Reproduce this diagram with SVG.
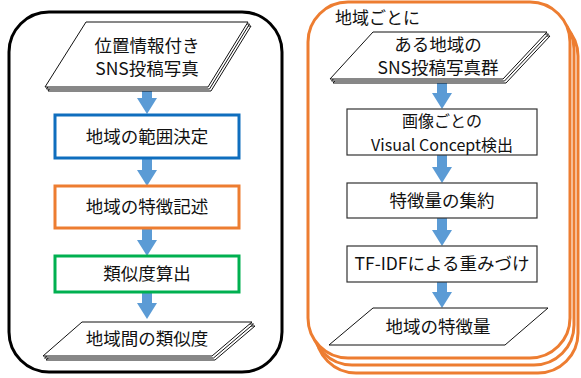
<svg xmlns="http://www.w3.org/2000/svg" width="581" height="378" viewBox="0 0 581 378">
<style>
.t{font-family:"Noto Sans CJK JP","Noto Sans",sans-serif;font-size:17.5px;fill:#111;text-anchor:middle}
.para{fill:#fff;stroke:#111;stroke-width:1}
.box{fill:#fff;stroke-width:3}
.rbox{fill:#fff;stroke:#333;stroke-width:1.2}
.arr{fill:#5B9BD5}
.frameL{fill:#fff;stroke:#000;stroke-width:3}
.frameR{fill:#fff;stroke:#ED7D31;stroke-width:3}
</style>
<g id="frame-left"><rect class="frameL" x="9" y="12" width="273" height="360" rx="40"/></g>
<g id="frame-right">
<rect class="frameR" x="316" y="16" width="262" height="357" rx="40"/>
<rect class="frameR" x="312" y="9" width="262" height="356" rx="40"/>
<rect class="frameR" x="308" y="2" width="262" height="356" rx="40"/>
<text class="t" x="335" y="24" style="text-anchor:start;font-size:17px">地域ごとに</text>
</g>
<g id="connectors">
<polygon class="arr" points="142,88 152,88 152,98 157,98 147,114 137,98 142,98"/>
<polygon class="arr" points="142,158 152,158 152,170 157,170 147,186 137,170 142,170"/>
<polygon class="arr" points="142,228 152,228 152,240 157,240 147,256 137,240 142,240"/>
<polygon class="arr" points="142,292 152,292 152,303 157,303 147,319 137,303 142,303"/>
<polygon class="arr" points="437,81 447,81 447,93 452,93 442,109 432,93 437,93"/>
<polygon class="arr" points="437,155 447,155 447,167 452,167 442,183 432,167 437,167"/>
<polygon class="arr" points="437,218 447,218 447,230 452,230 442,246 432,230 437,230"/>
<polygon class="arr" points="437,282 447,282 447,292 452,292 442,308 432,292 437,292"/>
</g>
<g id="n-input">
<polygon class="para" points="89,26 251,26 211,91 48,91"/>
<polygon class="para" points="87.5,24 249.5,24 209.5,89 46.5,89"/>
<polygon class="para" points="86,22 248,22 208,87 45,87"/>
<text class="t" x="147" y="52">位置情報付き</text>
<text class="t" x="147" y="75">SNS投稿写真</text>
</g>
<g id="n-range"><rect class="box" x="55" y="115" width="184" height="43" stroke="#0F6EBE"/><text class="t" x="147" y="143">地域の範囲決定</text></g>
<g id="n-feature"><rect class="box" x="55" y="186" width="184" height="42" stroke="#ED7D31"/><text class="t" x="147" y="213">地域の特徴記述</text></g>
<g id="n-sim"><rect class="box" x="55" y="256" width="184" height="36" stroke="#00B050"/><text class="t" x="147" y="280">類似度算出</text></g>
<g id="n-output">
<polygon class="para" points="85,326 255,326 215,360 46,360"/>
<polygon class="para" points="83.5,324 253.5,324 213.5,358 44.5,358"/>
<polygon class="para" points="82,322 252,322 212,356 43,356"/>
<text class="t" x="147" y="345">地域間の類似度</text>
</g>
<g id="n-rinput">
<polygon class="para" points="376,36 550,36 506,83 333,83"/>
<polygon class="para" points="374.5,34 548.5,34 504.5,81 331.5,81"/>
<polygon class="para" points="373,32 547,32 503,79 330,79"/>
<text class="t" x="438" y="51">ある地域の</text>
<text class="t" x="438" y="74">SNS投稿写真群</text>
</g>
<g id="n-detect"><rect class="rbox" x="347" y="109" width="190" height="46"/><text class="t" x="442" y="127" style="font-size:16px">画像ごとの</text><text class="t" x="442" y="151" style="font-size:16px">Visual Concept検出</text></g>
<g id="n-agg"><rect class="rbox" x="347" y="183" width="190" height="35"/><text class="t" x="442" y="207">特徴量の集約</text></g>
<g id="n-tfidf"><rect class="rbox" x="347" y="246" width="190" height="36"/><text class="t" x="442" y="270">TF-IDFによる重みづけ</text></g>
<g id="n-rout"><polygon class="para" points="373,308 548,308 505,345 329,345"/><text class="t" x="438" y="333">地域の特徴量</text></g>
</svg>
